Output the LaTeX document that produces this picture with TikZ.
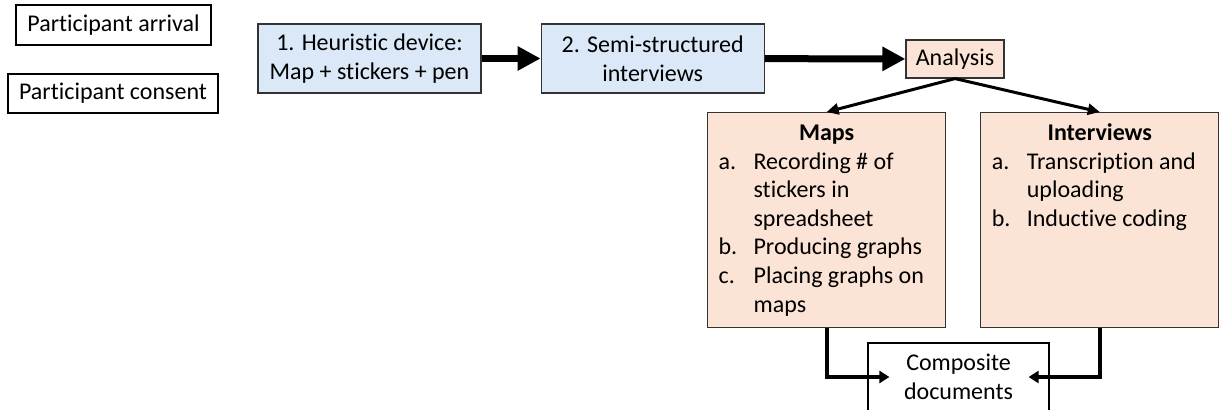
\documentclass[tikz,border=0pt]{standalone}
\usepackage{fontspec}
\setmainfont{Carlito}[Ligatures=NoCommon]
\usepackage{tikz}
\usetikzlibrary{positioning, arrows.meta}
\definecolor{bluefill}{HTML}{DAE8F7}
\definecolor{orangefill}{HTML}{FBE4D5}
\newcommand\itm[1]{\leavevmode\llap{\makebox[17.5pt][l]{#1}}}

\begin{document}
\begin{tikzpicture}[x=0.5pt, y=-0.5pt, font=\fontsize{12}{14.3}\selectfont,
		wbox/.style={draw, line width=0.6pt, inner sep=0pt},
		bbox/.style={draw=black!80, line width=0.6pt, fill=bluefill, inner sep=0pt, minimum width=111.5pt, minimum height=34.5pt, align=center},
		obox/.style={draw=black!80, line width=0.6pt, fill=orangefill, inner sep=0pt},
		bigarrow/.style={-{Triangle[length=11.5pt, width=11.5pt]}, line width=3.5pt},
		splitarrow/.style={-{Triangle[length=6pt, width=5.5pt]}, line width=1.5pt},
		mergearrow/.style={-{Triangle[length=5pt, width=6pt]}, line width=2pt}]
		\useasboundingbox (0,0) rectangle (1220,410);

		\node[wbox, minimum width=97.5pt, minimum height=20pt] (arrival) at (113.5,25) {Participant arrival};
		\node[wbox, minimum width=105pt, minimum height=19.5pt] (consent) at (113,93.5) {Participant consent};

		\node[bbox] (heur) at (369.5,58.5) {1. Heuristic device:\\Map + stickers + pen};
		\node[bbox, right=29.5pt of heur] (semi) {2. Semi-structured\\interviews};
		\node[obox, minimum width=49pt, minimum height=19pt] (analysis) at (955,59) {Analysis};

		\node[obox, anchor=north west] (maps) at (707,112) {\parbox[t][107.5pt][t]{119pt}{\centering\rule{0pt}{14pt}\textbf{Maps}\par
			\raggedright\leftskip=23pt
			\itm{a.}Recording \# of\\stickers in\\spreadsheet\par
			\itm{b.}Producing graphs\par
			\itm{c.}Placing graphs on\\maps}};
		\node[obox, right=17pt of maps] (intv) {\parbox[t][107.5pt][t]{119pt}{\centering\rule{0pt}{14pt}\textbf{Interviews}\par
			\raggedright\leftskip=23pt
			\itm{a.}Transcription and\\uploading\par
			\itm{b.}Inductive coding}};

		\node[wbox, minimum width=90.5pt, minimum height=34pt, align=center] (comp) at (958.5,377) {Composite\\documents};

		\path[bigarrow] (heur) edge (semi);
		\path[bigarrow] (semi) edge (analysis);
		\path[splitarrow] (analysis.south) edge (maps.north);
		\path[splitarrow] (analysis.south) edge (intv.north);
		\draw[mergearrow] (maps.south) |- ([xshift=11pt]comp.west);
		\draw[mergearrow] (intv.south) |- ([xshift=-10.5pt]comp.east);
	\end{tikzpicture}
\end{document}
